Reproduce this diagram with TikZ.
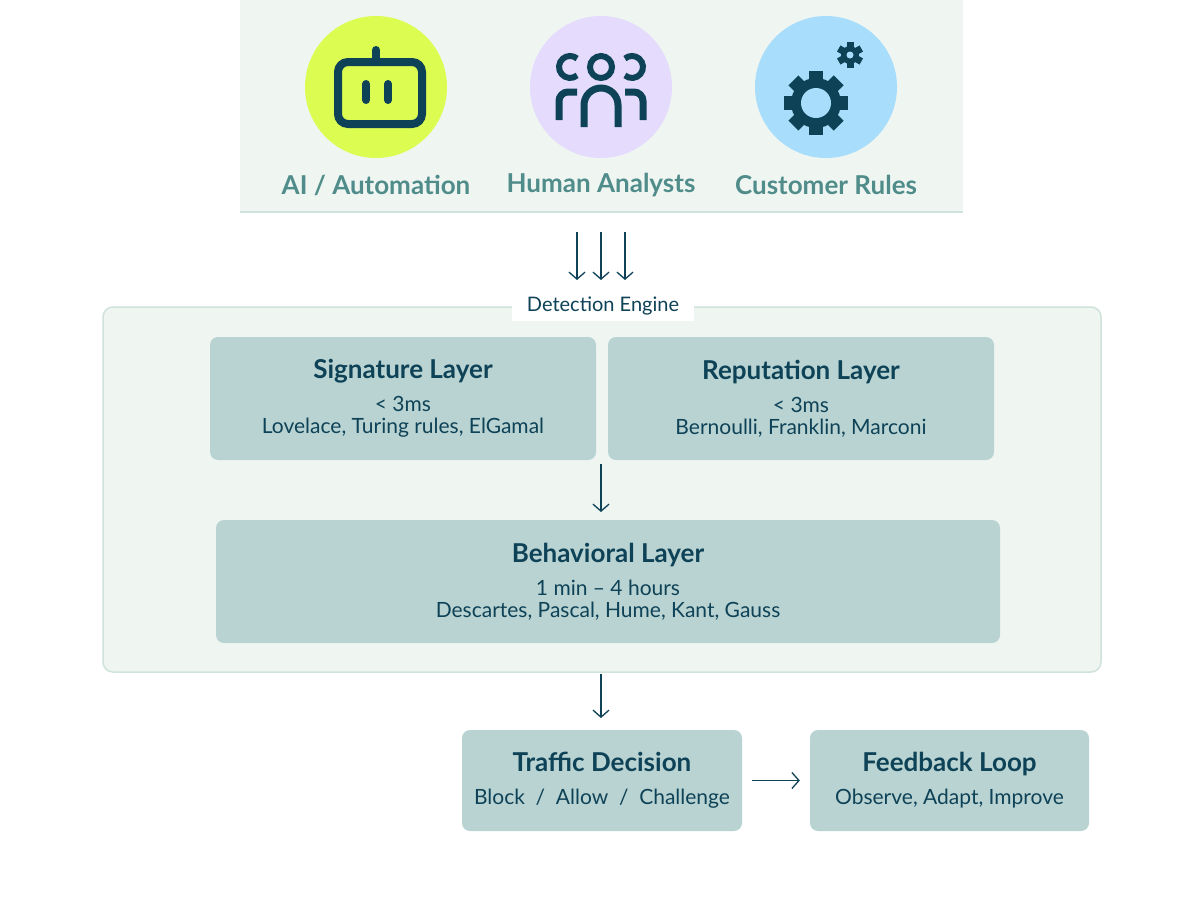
\documentclass[tikz,border=0pt]{standalone}
\usepackage{fontspec}
\setmainfont{Lato}
\usetikzlibrary{arrows.meta,positioning}
\definecolor{ink}{HTML}{0E4257}
\definecolor{teal}{HTML}{4F8C8A}
\definecolor{panel}{HTML}{EFF6F2}
\definecolor{rim}{HTML}{CFE2DC}
\definecolor{boxfill}{HTML}{B9D3D2}
\definecolor{lime}{HTML}{DDFC52}
\definecolor{lav}{HTML}{E4DBFD}
\definecolor{sky}{HTML}{A8DDFB}
\newcommand{\layertitle}[1]{{\fontsize{26}{30}\selectfont\bfseries #1}}
\tikzset{
  layer/.style={draw=none,fill=boxfill,rounded corners=8pt,align=center,text=ink,font=\fontsize{21}{22}\selectfont},
  flow/.style={ink,line width=1.3pt,-{Straight Barb[length=7pt,width=16pt]}},
  srclabel/.style={text=teal,font=\fontsize{26}{28}\selectfont\bfseries},
  icon/.style={ink,line width=8pt,line cap=round},
  person/.style={ink,line width=7pt}
}
\begin{document}
\begin{tikzpicture}[x=1pt,y=-1pt]
\useasboundingbox[fill=white] (0,0) rectangle (1204,903);
% sources panel
\fill[panel] (240,0) rectangle (963,212);
\draw[rim,line width=2pt] (240,212) -- (963,212);
\fill[lime] (376,87) circle (71);
\fill[lav] (601,87) circle (71);
\fill[sky] (826,87) circle (71);
\node[srclabel] (ai) at (376,185) {AI / Automation};
\node[srclabel] (human) at (601,185) {Human Analysts};
\node[srclabel] (rules) at (826,185) {Customer Rules};
% robot
\draw[icon,rounded corners=10pt] (338,62) rectangle (422,124);
\draw[icon] (376,62) -- (376,50);
\draw[icon] (366,84) -- (366,100);
\draw[icon] (388,84) -- (388,100);
% people
\draw[person,line width=6pt] (601,67) circle (11);
\draw[person,line width=6pt] (577.1,75.4) arc (50:310:11);
\draw[person,line width=6pt] (624.9,75.4) arc (130:-130:11);
\draw[person] (584,127) -- (584,105) arc (180:360:17) -- (618,127);
\draw[person] (559,120) -- (559,101) arc (180:270:9) -- (577,92);
\draw[person] (643,120) -- (643,101) arc (0:-90:9) -- (625,92);
% gears
\foreach \a in {0,45,...,315}
  \fill[ink,rotate around={\a:(816,103)}] (809,71) rectangle (823,82);
\fill[ink] (816,103) circle (25);
\fill[sky] (816,103) circle (15);
\foreach \a in {0,60,...,300}
  \fill[ink,rotate around={\a:(850,55)}] (846.5,42) rectangle (853.5,48);
\fill[ink] (850,55) circle (9);
\fill[sky] (850,55) circle (3.5);
% detection engine
\draw[rim,fill=panel,line width=1.5pt,rounded corners=10pt] (103,307) rectangle (1101,672);
\node[fill=white,text=ink,font=\fontsize{20}{22}\selectfont,minimum width=182pt,minimum height=30pt] (engine) at (603,306) {Detection Engine};
\node[layer,minimum width=386pt,minimum height=123pt] (sig) at (403,398.5) {\layertitle{Signature Layer}\\[11pt]{<} 3ms\\Lovelace, Turing rules, ElGamal};
\node[layer,minimum width=386pt,minimum height=123pt] (rep) at (801,398.5) {\layertitle{Reputation Layer}\\[11pt]{<} 3ms\\Bernoulli, Franklin, Marconi};
\node[layer,minimum width=784pt,minimum height=123pt] (beh) at (608,581.5) {\layertitle{Behavioral Layer}\\[11pt]1 min – 4 hours\\Descartes, Pascal, Hume, Kant, Gauss};
\node[layer,minimum width=280pt,minimum height=101pt] (traffic) at (602,780.5) {\layertitle{Traffic Decision}\\[11pt]Block \ / \ Allow \ / \ Challenge};
\node[layer,minimum width=279pt,minimum height=101pt] (feed) at (949.5,780.5) {\layertitle{Feedback Loop}\\[11pt]Observe, Adapt, Improve};
% arrows
\coordinate (inA) at (577,232); \coordinate (inB) at (601,232); \coordinate (inC) at (625,232);
\draw[flow] (inA) -- (577,280);
\draw[flow] (inB) -- (601,280);
\draw[flow] (inC) -- (625,280);
\coordinate (s1) at (601,464); \coordinate (s2) at (601,512);
\draw[flow] (s1) -- (s2);
\coordinate (e1) at (601,674); \coordinate (e2) at (601,718);
\draw[flow] (e1) -- (e2);
\draw[flow,shorten <=10pt,shorten >=10pt] (traffic) -- (feed);
\end{tikzpicture}
\end{document}
